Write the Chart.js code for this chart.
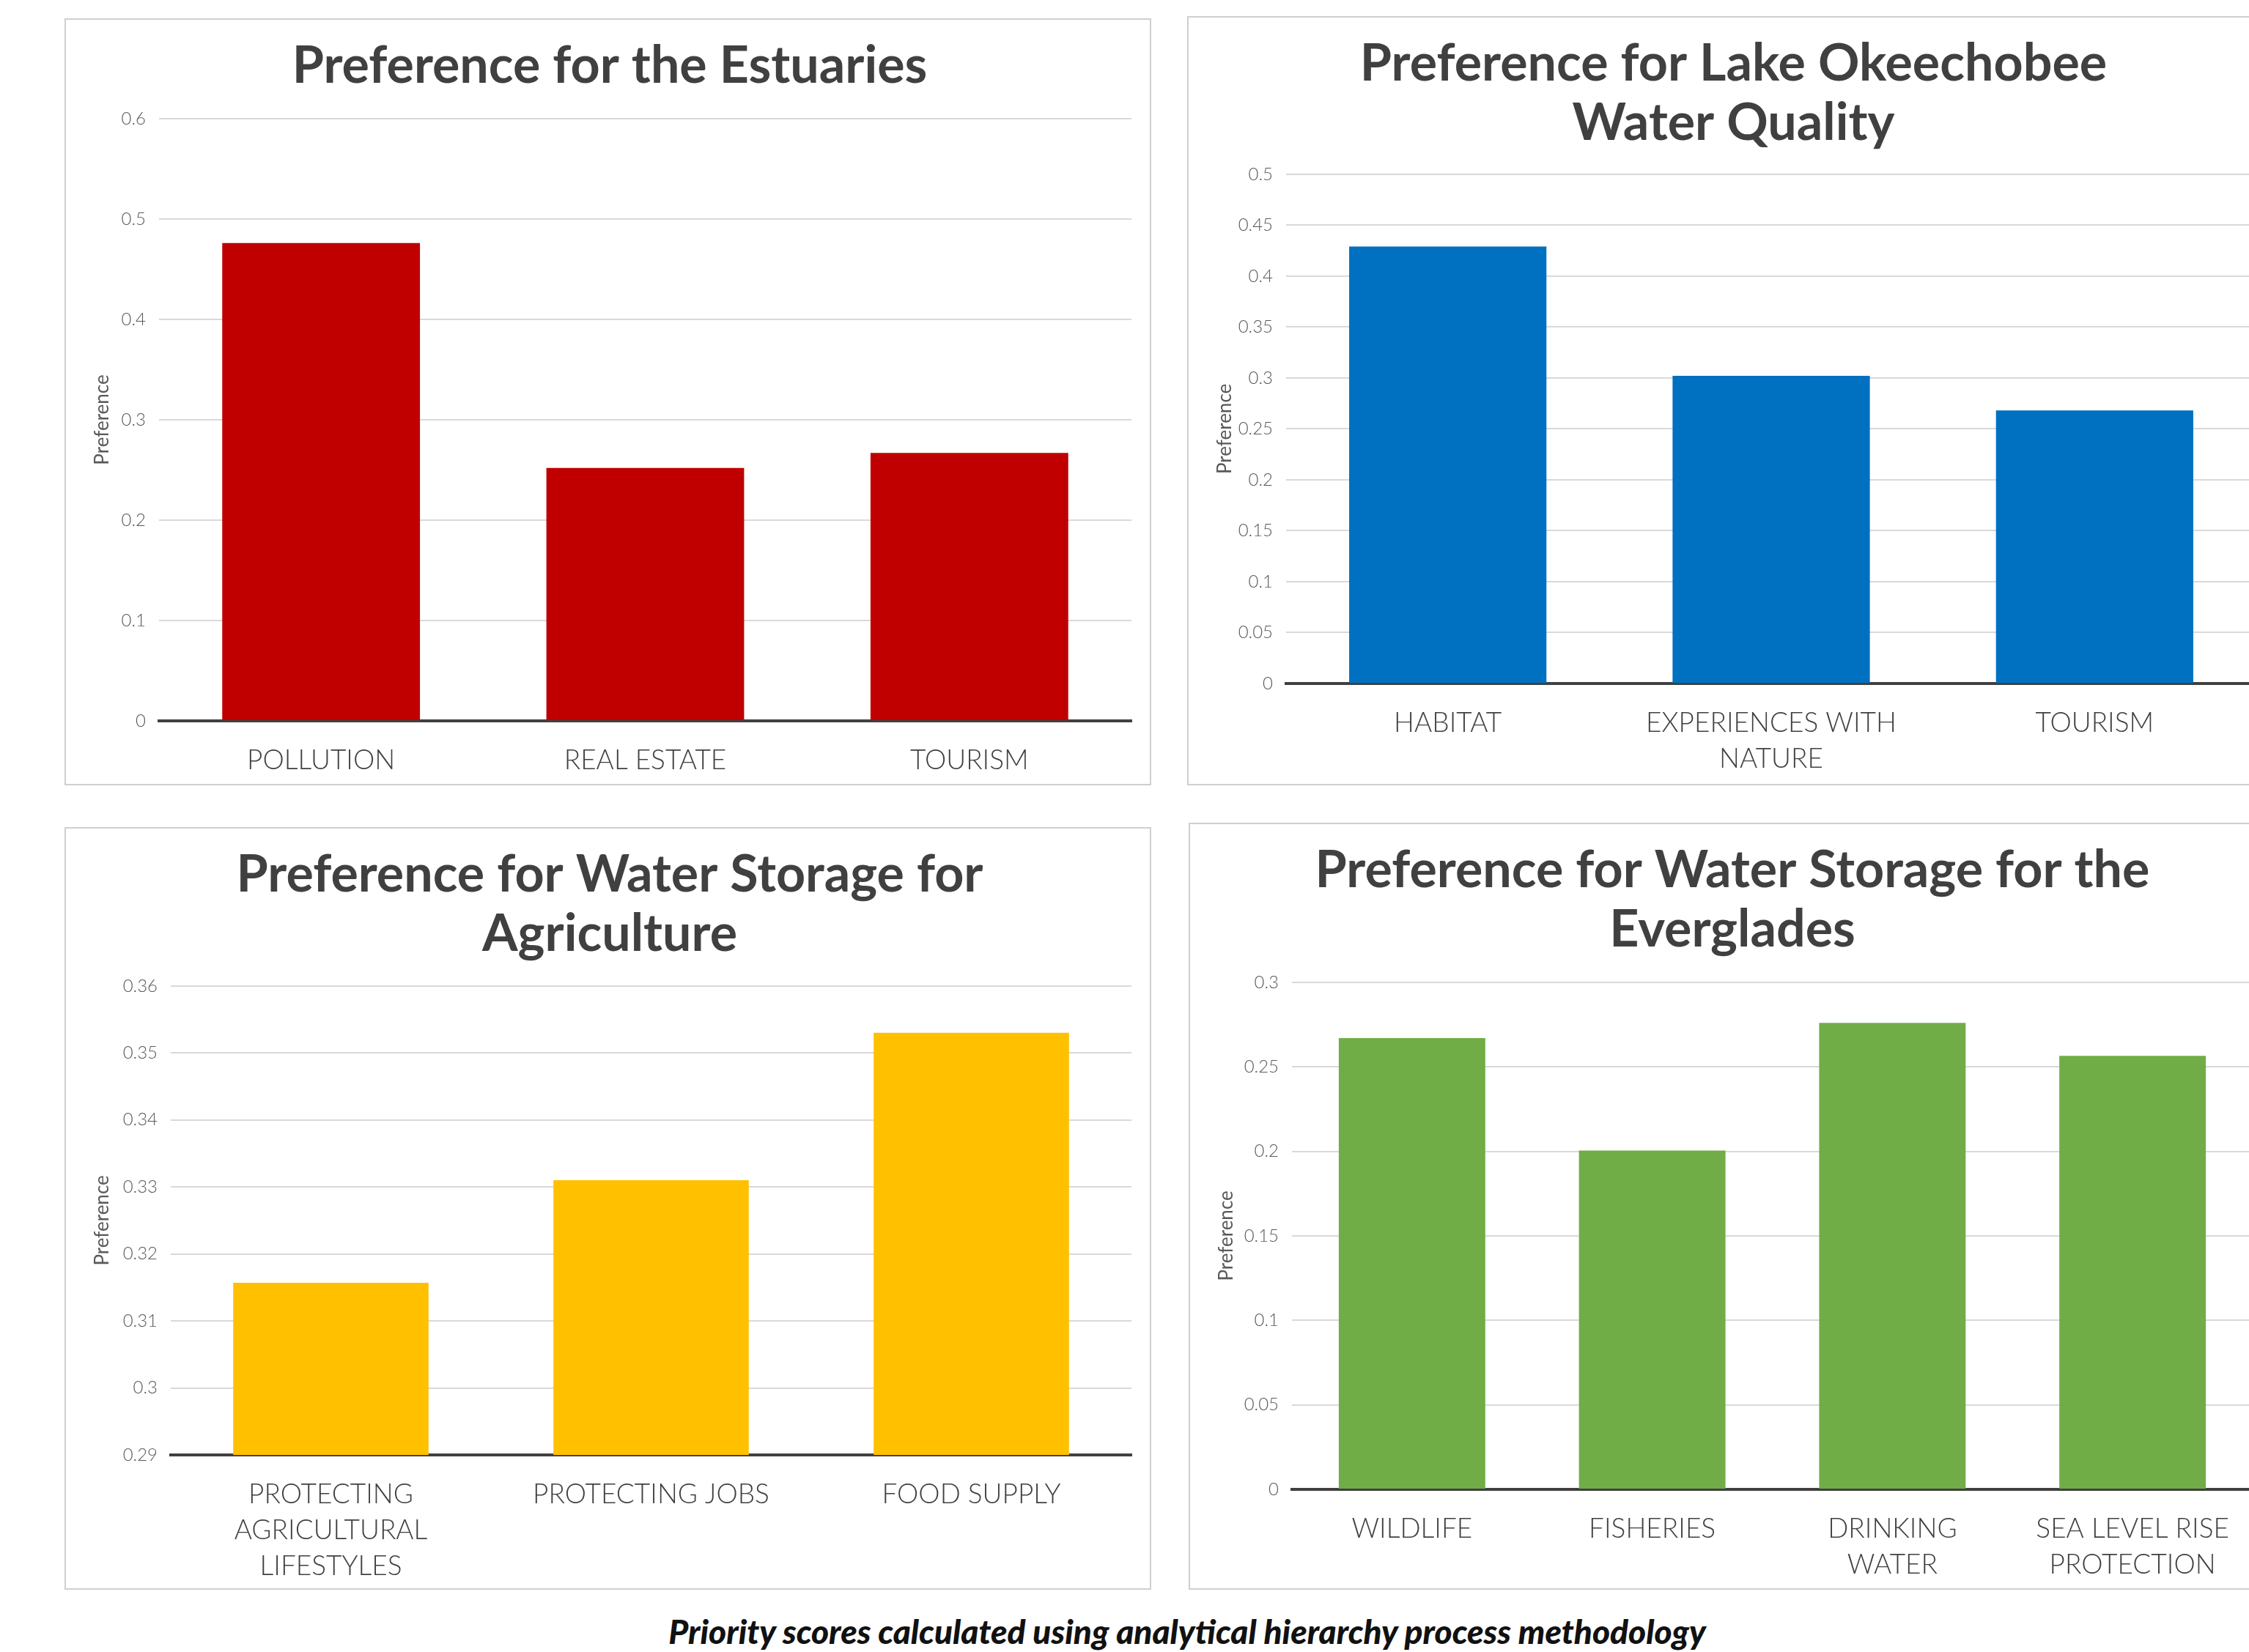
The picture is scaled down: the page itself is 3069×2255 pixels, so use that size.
<!DOCTYPE html>
<html>
<head>
<meta charset="utf-8">
<script src="https://cdn.jsdelivr.net/npm/chart.js@4.4.1/dist/chart.umd.min.js"></script>
<style>
  html, body { margin: 0; padding: 0; background: #fff; width: 3069px; height: 2255px; overflow: hidden; }
  .box { position: absolute; border: 2px solid #cfcfcf; box-sizing: border-box; background: #fff; overflow: hidden; }
  .box canvas { position: absolute; left: 0; top: 0; }
  #note { position: absolute; left: 0; width: 3240px; top: 2199px; text-align: center;
          font: italic 900 46px Lato, sans-serif; color: #111; }
</style>
</head>
<body>
<div class="box" style="left:88px;top:25px;width:1483px;height:1047px"><canvas id="c1" width="1479" height="1043"></canvas></div>
<div class="box" style="left:1620px;top:22px;width:1483px;height:1050px"><canvas id="c2" width="1479" height="1046"></canvas></div>
<div class="box" style="left:88px;top:1129px;width:1483px;height:1041px"><canvas id="c3" width="1479" height="1037"></canvas></div>
<div class="box" style="left:1622px;top:1123px;width:1483px;height:1047px"><canvas id="c4" width="1479" height="1043"></canvas></div>
<div id="note">Priority scores calculated using analytical hierarchy process methodology</div>

<script>
// --- data ---
const estuaryLabels = ['POLLUTION', 'REAL ESTATE', 'TOURISM'];
const estuaryValues = [0.476, 0.252, 0.267];
const estuaryTicks = [0, 0.1, 0.2, 0.3, 0.4, 0.5, 0.6];

const lakeLabels = ['HABITAT', ['EXPERIENCES WITH', 'NATURE'], 'TOURISM'];
const lakeValues = [0.429, 0.302, 0.268];
const lakeTicks = [0, 0.05, 0.1, 0.15, 0.2, 0.25, 0.3, 0.35, 0.4, 0.45, 0.5];

const agLabels = [['PROTECTING', 'AGRICULTURAL', 'LIFESTYLES'], 'PROTECTING JOBS', 'FOOD SUPPLY'];
const agValues = [0.3157, 0.331, 0.353];
const agTicks = [0.29, 0.3, 0.31, 0.32, 0.33, 0.34, 0.35, 0.36];

const gladesLabels = ['WILDLIFE', 'FISHERIES', ['DRINKING', 'WATER'], ['SEA LEVEL RISE', 'PROTECTION']];
const gladesValues = [0.267, 0.2005, 0.276, 0.2565];
const gladesTicks = [0, 0.05, 0.1, 0.15, 0.2, 0.25, 0.3];

const FONT = 'Lato, "Open Sans", sans-serif';

function makeChart(id, title, labels, values, ticks, color, lay) {
    return new Chart(document.getElementById(id), {
        type: 'bar',
        data: {
            labels: labels,
            datasets: [{
                data: values,
                backgroundColor: color,
                borderWidth: 0,
                barPercentage: 0.61,
                categoryPercentage: 1
            }]
        },
        options: {
            responsive: false,
            animation: false,
            devicePixelRatio: 1,
            layout: {
                padding: { left: 30, right: lay.right, top: 0, bottom: 0 }
            },
            plugins: {
                legend: { display: false },
                tooltip: { enabled: false },
                title: {
                    display: true,
                    text: title,
                    color: '#404040',
                    font: { family: FONT, size: 70, weight: 'bold', lineHeight: 1.17 },
                    padding: { top: 22, bottom: lay.titleBottom }
                }
            },
            scales: {
                x: {
                    grid: { display: false, drawTicks: false },
                    border: { display: true, color: '#404040', width: 4 },
                    ticks: {
                        color: '#404040',
                        font: { family: FONT, size: 37, weight: 300, lineHeight: 1.33 },
                        padding: 29,
                        autoSkip: false,
                        maxRotation: 0
                    },
                    afterFit: (s) => { s.height = lay.xh; }
                },
                y: {
                    min: ticks[0],
                    max: ticks[ticks.length - 1],
                    afterBuildTicks: (s) => { s.ticks = ticks.map(v => ({ value: v })); },
                    grid: { color: '#d9d9d9', lineWidth: 2, drawTicks: false },
                    border: { display: false },
                    ticks: {
                        color: '#595959',
                        font: { family: FONT, size: 24, weight: 300 },
                        padding: 18,
                        callback: (v) => String(v)
                    },
                    title: {
                        display: true,
                        text: 'Preference',
                        color: '#595959',
                        font: { family: FONT, size: 26 }
                    },
                    afterFit: (s) => { s.width = lay.yw; }
                }
            }
        }
    });
}

makeChart('c1', 'Preference for the Estuaries', estuaryLabels, estuaryValues, estuaryTicks, '#C00000',
    { right: 25, titleBottom: 31, xh: 86, yw: 97 });
makeChart('c2', ['Preference for Lake Okeechobee', 'Water Quality'], lakeLabels, lakeValues, lakeTicks, '#0070C0',
    { right: 22, titleBottom: 28, xh: 137, yw: 103 });
makeChart('c3', ['Preference for Water Storage for', 'Agriculture'], agLabels, agValues, agTicks, '#FFC000',
    { right: 25, titleBottom: 29, xh: 182, yw: 113 });
makeChart('c4', ['Preference for Water Storage for the', 'Everglades'], gladesLabels, gladesValues, gladesTicks, '#70AD47',
    { right: 29, titleBottom: 30, xh: 135, yw: 109 });
</script>
</body>
</html>
